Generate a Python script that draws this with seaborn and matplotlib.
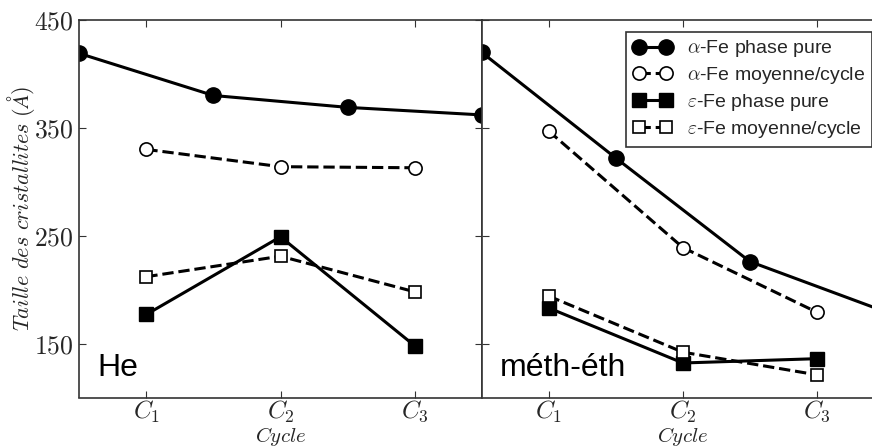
import matplotlib
matplotlib.use("Agg")
import matplotlib.pyplot as plt
import seaborn as sns
import pandas as pd
from matplotlib.ticker import FixedLocator, FuncFormatter

# ---- data ----
cycles = [1, 2, 3]
cycle_labels = [r"$C_1$", r"$C_2$", r"$C_3$"]
pure_x = [0.5, 1.5, 2.5, 3.5]

he_alpha_pure = [419, 380, 369, 362]
he_alpha_moy = [330, 314, 313]
he_eps_pure = [177, 249, 148]
he_eps_moy = [212, 231, 198]

me_alpha_pure = [420, 322, 226, 180]
me_alpha_moy = [347, 239, 179]
me_eps_pure = [183, 132, 136]
me_eps_moy = [194, 142, 121]

labels = [r"$\alpha$-Fe phase pure", r"$\alpha$-Fe moyenne/cycle",
          r"$\varepsilon$-Fe phase pure", r"$\varepsilon$-Fe moyenne/cycle"]
panel_names = ["He", "méth-éth"]
yticks = [150, 250, 350, 450]

sns.set_theme(style="ticks")
plt.rcParams["mathtext.fontset"] = "cm"
plt.rcParams["font.family"] = ["Liberation Sans", "DejaVu Sans"]

fig = plt.figure(figsize=(8.72, 4.48), dpi=100)
W, H = 872.0, 448.0
ax1 = fig.add_axes([79.3 / W, 1 - 397.5 / H, 402.4 / W, 377.5 / H])
ax2 = fig.add_axes([481.7 / W, 1 - 397.5 / H, 402.4 / W, 377.5 / H], sharey=ax1)

lw = 2.2
panels = [
    (ax1, he_alpha_pure, he_alpha_moy, he_eps_pure, he_eps_moy),
    (ax2, me_alpha_pure, me_alpha_moy, me_eps_pure, me_eps_moy),
]
for i, (ax, ap, am, ep, em) in enumerate(panels):
    sns.lineplot(x=pure_x, y=ap, ax=ax, color="black", lw=lw, linestyle="-",
                 marker="o", markersize=11, markerfacecolor="black",
                 markeredgecolor="black", markeredgewidth=1, label=labels[0])
    sns.lineplot(x=cycles, y=am, ax=ax, color="black", lw=lw, linestyle="--",
                 marker="o", markersize=9.5, markerfacecolor="white",
                 markeredgecolor="black", markeredgewidth=1.2, label=labels[1])
    sns.lineplot(x=cycles, y=ep, ax=ax, color="black", lw=lw, linestyle="-",
                 marker="s", markersize=9.5, markerfacecolor="black",
                 markeredgecolor="black", markeredgewidth=1, label=labels[2])
    sns.lineplot(x=cycles, y=em, ax=ax, color="black", lw=lw, linestyle="--",
                 marker="s", markersize=8.5, markerfacecolor="white",
                 markeredgecolor="black", markeredgewidth=1.2, label=labels[3])

    ax.set_xlim(0.5, 3.5)
    ax.set_ylim(100, 450)
    ax.xaxis.set_major_locator(FixedLocator(cycles))
    ax.set_xticklabels(cycle_labels, fontsize=18)
    ax.set_xlabel(r"$Cycle$", fontsize=15)
    ax.xaxis.set_label_coords(0.5, -0.074)
    ax.tick_params(direction="in", top=True, right=True, length=5, width=0.8,
                   color="#333333")
    ax.tick_params(axis="x", pad=1)
    for s in ax.spines.values():
        s.set_linewidth(1.2)
        s.set_color("#333333")
    ax.text(0.045, 0.057, panel_names[i], transform=ax.transAxes,
            fontsize=23, ha="left", va="baseline", color="black")
    if ax.get_legend():
        ax.get_legend().remove()

ax1.yaxis.set_major_locator(FixedLocator(yticks))
ax1.yaxis.set_major_formatter(FuncFormatter(lambda v, p: r"$%d$" % v))
ax1.tick_params(axis="y", labelsize=18.5, pad=4)
ax1.set_ylabel(r"$Taille\ des\ cristallites\ (\AA)$", fontsize=16)
ax1.yaxis.set_label_coords(-0.106, 0.5)
ax2.tick_params(axis="y", labelleft=False)
ax2.set_ylabel("")

h, l = ax2.get_legend_handles_labels()
leg = ax2.legend(h, l, loc="upper right", numpoints=2, fontsize=14,
                 frameon=True, fancybox=False, framealpha=1, edgecolor="#333333",
                 handlelength=2.0, handletextpad=0.8, borderpad=0.35,
                 labelspacing=0.3, borderaxespad=0.6)
leg.get_frame().set_linewidth(1.2)

fig.savefig("out.png", dpi=100)
